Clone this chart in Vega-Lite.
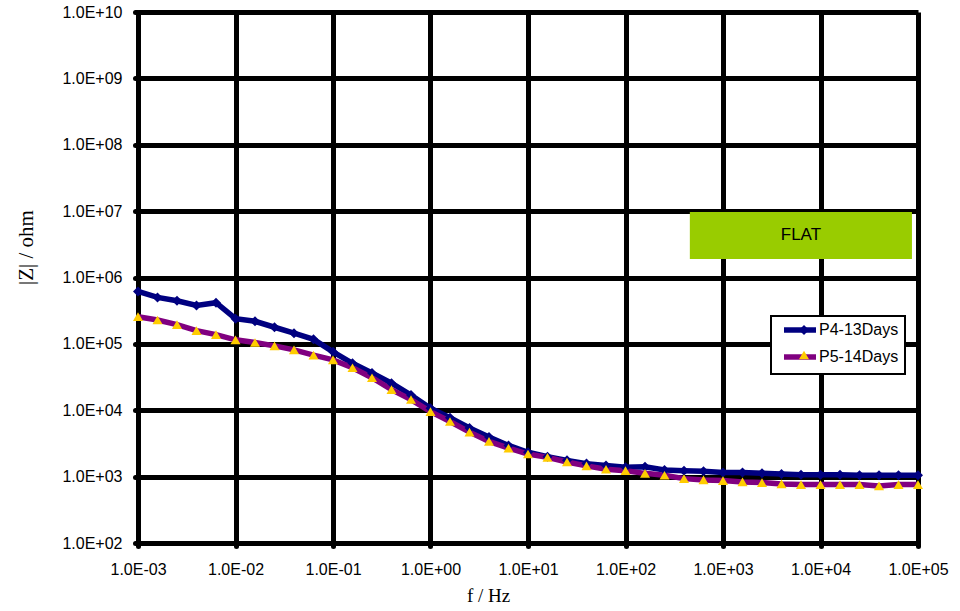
{
  "$schema": "https://vega.github.io/schema/vega-lite/v6.json",
  "width": 780,
  "height": 531,
  "autosize": "none",
  "padding": {"left": 138, "top": 12, "right": 42, "bottom": 68},
  "background": "white",
  "config": {"view": {"stroke": null}},
  "datasets": {
    "eis": [
      {"f": 0.001, "z": 617000, "series": "P4-13Days"},
      {"f": 0.001585, "z": 501000, "series": "P4-13Days"},
      {"f": 0.002512, "z": 447000, "series": "P4-13Days"},
      {"f": 0.003981, "z": 380000, "series": "P4-13Days"},
      {"f": 0.00631, "z": 417000, "series": "P4-13Days"},
      {"f": 0.01, "z": 240000, "series": "P4-13Days"},
      {"f": 0.01585, "z": 219000, "series": "P4-13Days"},
      {"f": 0.02512, "z": 178000, "series": "P4-13Days"},
      {"f": 0.03981, "z": 145000, "series": "P4-13Days"},
      {"f": 0.0631, "z": 117000, "series": "P4-13Days"},
      {"f": 0.1, "z": 76000, "series": "P4-13Days"},
      {"f": 0.1585, "z": 51000, "series": "P4-13Days"},
      {"f": 0.2512, "z": 36500, "series": "P4-13Days"},
      {"f": 0.3981, "z": 25500, "series": "P4-13Days"},
      {"f": 0.631, "z": 17000, "series": "P4-13Days"},
      {"f": 1, "z": 10700, "series": "P4-13Days"},
      {"f": 1.585, "z": 7700, "series": "P4-13Days"},
      {"f": 2.512, "z": 5400, "series": "P4-13Days"},
      {"f": 3.981, "z": 3950, "series": "P4-13Days"},
      {"f": 6.31, "z": 2950, "series": "P4-13Days"},
      {"f": 10, "z": 2330, "series": "P4-13Days"},
      {"f": 15.85, "z": 2000, "series": "P4-13Days"},
      {"f": 25.12, "z": 1760, "series": "P4-13Days"},
      {"f": 39.81, "z": 1570, "series": "P4-13Days"},
      {"f": 63.1, "z": 1470, "series": "P4-13Days"},
      {"f": 100, "z": 1380, "series": "P4-13Days"},
      {"f": 158.5, "z": 1410, "series": "P4-13Days"},
      {"f": 251.2, "z": 1260, "series": "P4-13Days"},
      {"f": 398.1, "z": 1230, "series": "P4-13Days"},
      {"f": 631, "z": 1200, "series": "P4-13Days"},
      {"f": 1000, "z": 1150, "series": "P4-13Days"},
      {"f": 1585, "z": 1150, "series": "P4-13Days"},
      {"f": 2512, "z": 1120, "series": "P4-13Days"},
      {"f": 3981, "z": 1100, "series": "P4-13Days"},
      {"f": 6310, "z": 1070, "series": "P4-13Days"},
      {"f": 10000, "z": 1070, "series": "P4-13Days"},
      {"f": 15850, "z": 1070, "series": "P4-13Days"},
      {"f": 25120, "z": 1050, "series": "P4-13Days"},
      {"f": 39810, "z": 1050, "series": "P4-13Days"},
      {"f": 63100, "z": 1050, "series": "P4-13Days"},
      {"f": 100000, "z": 1050, "series": "P4-13Days"},
      {"f": 0.001, "z": 257000, "series": "P5-14Days"},
      {"f": 0.001585, "z": 229000, "series": "P5-14Days"},
      {"f": 0.002512, "z": 195000, "series": "P5-14Days"},
      {"f": 0.003981, "z": 158000, "series": "P5-14Days"},
      {"f": 0.00631, "z": 138000, "series": "P5-14Days"},
      {"f": 0.01, "z": 115000, "series": "P5-14Days"},
      {"f": 0.01585, "z": 105000, "series": "P5-14Days"},
      {"f": 0.02512, "z": 93300, "series": "P5-14Days"},
      {"f": 0.03981, "z": 81300, "series": "P5-14Days"},
      {"f": 0.0631, "z": 67600, "series": "P5-14Days"},
      {"f": 0.1, "z": 57500, "series": "P5-14Days"},
      {"f": 0.1585, "z": 43700, "series": "P5-14Days"},
      {"f": 0.2512, "z": 30900, "series": "P5-14Days"},
      {"f": 0.3981, "z": 20400, "series": "P5-14Days"},
      {"f": 0.631, "z": 14500, "series": "P5-14Days"},
      {"f": 1, "z": 9550, "series": "P5-14Days"},
      {"f": 1.585, "z": 6760, "series": "P5-14Days"},
      {"f": 2.512, "z": 4680, "series": "P5-14Days"},
      {"f": 3.981, "z": 3390, "series": "P5-14Days"},
      {"f": 6.31, "z": 2690, "series": "P5-14Days"},
      {"f": 10, "z": 2190, "series": "P5-14Days"},
      {"f": 15.85, "z": 1950, "series": "P5-14Days"},
      {"f": 25.12, "z": 1660, "series": "P5-14Days"},
      {"f": 39.81, "z": 1450, "series": "P5-14Days"},
      {"f": 63.1, "z": 1290, "series": "P5-14Days"},
      {"f": 100, "z": 1230, "series": "P5-14Days"},
      {"f": 158.5, "z": 1120, "series": "P5-14Days"},
      {"f": 251.2, "z": 1050, "series": "P5-14Days"},
      {"f": 398.1, "z": 933, "series": "P5-14Days"},
      {"f": 631, "z": 891, "series": "P5-14Days"},
      {"f": 1000, "z": 871, "series": "P5-14Days"},
      {"f": 1585, "z": 832, "series": "P5-14Days"},
      {"f": 2512, "z": 813, "series": "P5-14Days"},
      {"f": 3981, "z": 776, "series": "P5-14Days"},
      {"f": 6310, "z": 759, "series": "P5-14Days"},
      {"f": 10000, "z": 759, "series": "P5-14Days"},
      {"f": 15850, "z": 759, "series": "P5-14Days"},
      {"f": 25120, "z": 759, "series": "P5-14Days"},
      {"f": 39810, "z": 724, "series": "P5-14Days"},
      {"f": 63100, "z": 759, "series": "P5-14Days"},
      {"f": 100000, "z": 759, "series": "P5-14Days"}
    ],
    "flat": [
      {"f": 457, "f2": 86700, "z": 9700000, "z2": 1900000, "fc": 6300, "zc": 4300000, "label": "FLAT"}
    ]
  },
  "encoding": {
    "x": {
      "field": "f",
      "type": "quantitative",
      "scale": {"type": "log", "domain": [0.001, 100000], "nice": false},
      "axis": {
        "title": "f / Hz",
        "values": [0.001, 0.01, 0.1, 1, 10, 100, 1000, 10000, 100000],
        "labelExpr": "'1.0E' + (datum.value < 1 ? '-' : '+') + (abs(round(log(datum.value)/LN10)) < 10 ? '0' : '') + abs(round(log(datum.value)/LN10))",
        "grid": true, "gridColor": "black", "gridWidth": 5, "gridOpacity": 1,
        "domain": true, "domainColor": "black", "domainWidth": 5,
        "ticks": true, "tickSize": 3, "tickWidth": 5, "tickColor": "black", "tickCap": "round",
        "labelFont": "Liberation Sans", "labelFontSize": 16, "labelColor": "black",
        "labelPadding": 15, "labelFlush": false, "labelOverlap": false,
        "titleFont": "Liberation Serif", "titleFontSize": 19, "titleFontWeight": "normal", "titleColor": "black",
        "titleX": 350, "titleY": 58, "titleAlign": "center", "titleBaseline": "alphabetic"
      }
    },
    "y": {
      "field": "z",
      "type": "quantitative",
      "scale": {"type": "log", "domain": [100, 10000000000], "nice": false},
      "axis": {
        "title": "|Z| / ohm",
        "values": [100, 1000, 10000, 100000, 1000000, 10000000, 100000000, 1000000000, 10000000000],
        "labelExpr": "'1.0E' + (datum.value < 1 ? '-' : '+') + (abs(round(log(datum.value)/LN10)) < 10 ? '0' : '') + abs(round(log(datum.value)/LN10))",
        "grid": true, "gridColor": "black", "gridWidth": 5, "gridOpacity": 1,
        "domain": true, "domainColor": "black", "domainWidth": 5,
        "ticks": true, "tickSize": 3, "tickWidth": 5, "tickColor": "black", "tickCap": "round",
        "labelFont": "Liberation Sans", "labelFontSize": 16, "labelColor": "black",
        "labelPadding": 13, "labelFlush": false, "labelOverlap": false,
        "titleFont": "Liberation Serif", "titleFontSize": 21, "titleFontWeight": "normal", "titleColor": "black",
        "titleX": -112, "titleY": 235, "titleAngle": -90, "titleAlign": "center", "titleBaseline": "middle"
      }
    }
  },
  "layer": [
    {
      "data": {"name": "flat"},
      "mark": {"type": "rect", "fill": "#99CC00"},
      "encoding": {
        "x2": {"field": "f2"},
        "y2": {"field": "z2"}
      }
    },
    {
      "data": {"name": "flat"},
      "mark": {"type": "text", "font": "Liberation Sans", "fontSize": 17, "color": "black", "align": "center", "baseline": "middle"},
      "encoding": {
        "x": {"field": "fc", "type": "quantitative"},
        "y": {"field": "zc", "type": "quantitative"},
        "text": {"field": "label"}
      }
    },
    {
      "data": {"name": "eis"},
      "mark": {"type": "line", "strokeWidth": 5.5, "interpolate": "linear"},
      "encoding": {
        "stroke": {
          "field": "series", "type": "nominal",
          "scale": {"range": ["#000080", "#800080"]},
          "legend": {
            "orient": "none", "legendX": 633, "legendY": 304, "title": null,
            "symbolType": "M-8,0H8", "symbolSize": 16, "symbolStrokeWidth": 5.5,
            "symbolOffset": 15,
            "labelFont": "Liberation Sans", "labelFontSize": 16, "labelColor": "black",
            "labelOffset": 11, "rowPadding": 5, "padding": 6,
            "fillColor": "white", "strokeColor": "black", "direction": "vertical",
            "encode": {"legend": {"update": {"strokeWidth": {"value": 2}}}}
          }
        }
      }
    },
    {
      "data": {"name": "eis"},
      "mark": {"type": "point", "filled": true, "size": 100, "opacity": 1, "strokeWidth": 0},
      "encoding": {
        "fill": {
          "field": "series", "type": "nominal",
          "scale": {"domain": ["P4-13Days", "P5-14Days"], "range": ["#000080", "#FFCC00"]},
          "legend": {
            "orient": "none", "legendX": 633, "legendY": 304, "title": null,
            "symbolSize": 100, "symbolStrokeWidth": 0, "symbolOffset": 19,
            "labelFont": "Liberation Sans", "labelFontSize": 16, "labelExpr": "''",
            "labelOffset": 2, "rowPadding": 9, "padding": 6, "direction": "vertical"
          }
        },
        "shape": {
          "field": "series", "type": "nominal",
          "scale": {"domain": ["P4-13Days", "P5-14Days"], "range": ["diamond", "triangle-up"]},
          "legend": {
            "orient": "none", "legendX": 633, "legendY": 304, "title": null,
            "symbolSize": 100, "symbolStrokeWidth": 0, "symbolOffset": 19,
            "labelFont": "Liberation Sans", "labelFontSize": 16, "labelExpr": "''",
            "labelOffset": 2, "rowPadding": 9, "padding": 6, "direction": "vertical"
          }
        }
      }
    }
  ]
}
